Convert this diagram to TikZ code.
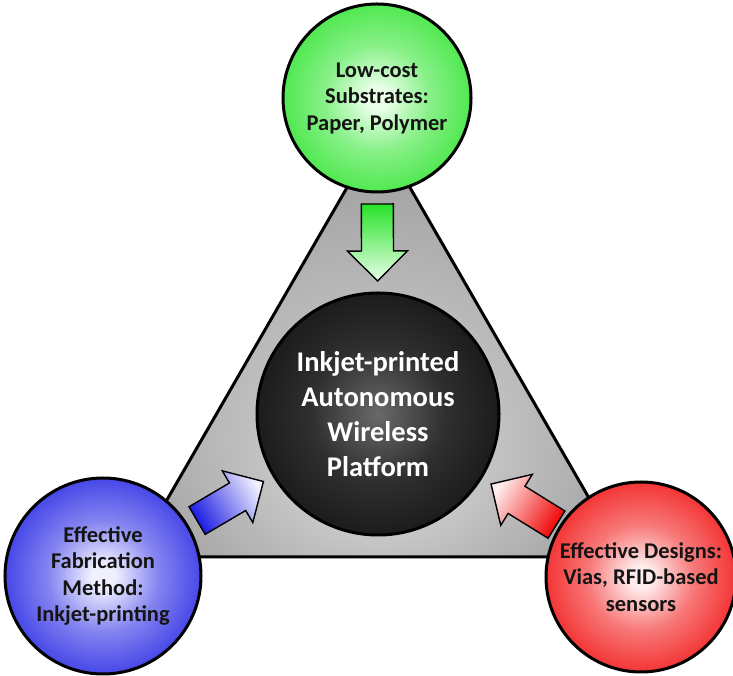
\documentclass[tikz,border=0pt]{standalone}
\usepackage{fontspec}
\setmainfont{Carlito}
\usetikzlibrary{calc}

\definecolor{gIn}{RGB}{232,255,232}
\definecolor{gOut}{RGB}{40,226,40}
\definecolor{bIn}{RGB}{240,240,255}
\definecolor{bOut}{RGB}{26,26,226}
\definecolor{rIn}{RGB}{255,236,236}
\definecolor{rOut}{RGB}{240,4,4}
\definecolor{kIn}{RGB}{105,105,105}
\definecolor{kOut}{RGB}{8,8,8}
\definecolor{tIn}{RGB}{218,218,218}
\definecolor{tOut}{RGB}{118,118,118}
\definecolor{textdark}{RGB}{20,20,20}

\pgfdeclareradialshading{greenball}{\pgfpointorigin}{color(0bp)=(gIn); color(3bp)=(gIn); color(14bp)=(gOut!50!gIn); color(30bp)=(gOut!92!gIn); color(50bp)=(gOut)}
\pgfdeclareradialshading{blueball}{\pgfpointorigin}{color(0bp)=(bIn); color(3bp)=(bIn); color(14bp)=(bOut!50!bIn); color(30bp)=(bOut!92!bIn); color(50bp)=(bOut)}
\pgfdeclareradialshading{redball}{\pgfpointorigin}{color(0bp)=(rIn); color(3bp)=(rIn); color(14bp)=(rOut!50!rIn); color(30bp)=(rOut!92!rIn); color(50bp)=(rOut)}
\pgfdeclareradialshading{blackball}{\pgfpointorigin}{color(0bp)=(kIn); color(14bp)=(kOut!60!kIn); color(32bp)=(kOut!92!kIn); color(50bp)=(kOut)}
\pgfdeclareradialshading{trishade}{\pgfpoint{0bp}{-16bp}}{color(0bp)=(tIn); color(50bp)=(tOut)}

\newcommand\feedarrow[4]{%
  \coordinate (#1-t) at ($(plat)!210pt!(#1)$);
  \coordinate (#1-h) at ($(plat)!163pt!(#1)$);
  \coordinate (#1-p) at ($(plat)!133pt!(#1)$);
  \shadedraw[blockarrow, top color=#3, bottom color=#2, shading angle=#4]
    ($(#1-t)!16pt!90:(plat)$) -- ($(#1-h)!16pt!90:(plat)$) --
    ($(#1-h)!30pt!90:(plat)$) -- (#1-p) --
    ($(#1-h)!30pt!-90:(plat)$) -- ($(#1-h)!16pt!-90:(plat)$) --
    ($(#1-t)!16pt!-90:(plat)$) -- cycle;
}

\begin{document}
\begin{tikzpicture}[x=1pt,y=1pt,
  ball/.style={circle, draw=black, line width=3pt, inner sep=0pt, align=center,
    shade, font=\bfseries\fontsize{22.5}{26.5}\selectfont, text=textdark},
  blockarrow/.style={draw=black, line width=1.4pt, line join=miter},
]
\useasboundingbox (0,0) rectangle (733,676);

\shadedraw[shading=trishade, draw=black, line width=3pt, line join=round]
  (378.5,543) -- (134,119) -- (623,119) -- cycle;

\node[ball, shading=greenball, minimum size=188pt] (sub) at (377,578)
  {Low-cost\\Substrates:\\Paper, Polymer};
\node[ball, shading=blueball, minimum size=196pt] (fab) at (103,100)
  {Effective\\Fabrication\\Method:\\Inkjet-printing};
\node[ball, shading=redball, minimum size=190pt] (des) at (641,99)
  {Effective Designs:\\Vias, RFID-based\\sensors};
\node[ball, shading=blackball, minimum size=242pt, text=white,
  font=\bfseries\fontsize{28.5}{35}\selectfont] (plat) at (378,262)
  {Inkjet-printed\\Autonomous\\Wireless\\Platform};

\feedarrow{sub}{gOut}{gIn}{-180}
\feedarrow{fab}{bOut}{bIn}{-59.5}
\feedarrow{des}{rOut}{rIn}{58.2}
\end{tikzpicture}
\end{document}
